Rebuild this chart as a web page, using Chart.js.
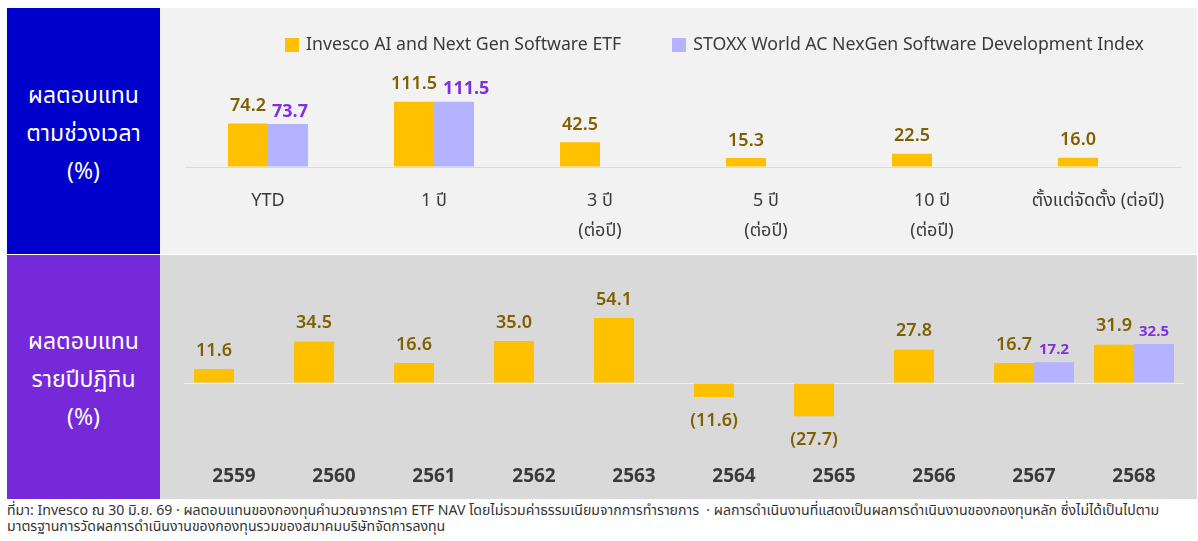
<!DOCTYPE html>
<html>
<head>
<meta charset="utf-8">
<script src="https://cdn.jsdelivr.net/npm/chart.js@4.4.1/dist/chart.umd.min.js"></script>
<style>
  html, body { margin:0; padding:0; background:#ffffff; }
  body { width:1198px; height:541px; position:relative; overflow:hidden;
         font-family:'Noto Sans Thai','Noto Sans Thai UI','Noto Sans',sans-serif; }
  .side { position:absolute; left:7px; width:153px; color:#ffffff; font-size:23px; box-sizing:border-box;
          display:flex; flex-direction:column; align-items:center; justify-content:center; line-height:38px; }
  .panel { position:absolute; left:160px; width:1037px; }
  #legend { position:absolute; left:285px; top:31px; display:flex; align-items:center;
            font-size:17.7px; color:#3a3a3a; white-space:nowrap; }
  #legend .item { display:flex; align-items:center; margin-right:51px; }
  #legend .sw { width:14px; height:14px; margin-right:7px; }
  #foot { position:absolute; left:7px; top:503px; font-size:14.1px; line-height:16px; color:#333333; white-space:nowrap; }
</style>
</head>
<body>
<div class="side" style="top:8px;height:246px;padding-top:6px;background:#0000cc;">
  <div>ผลตอบแทน</div><div>ตามช่วงเวลา</div><div>(%)</div>
</div>
<div class="side" style="top:255px;height:244px;padding-top:6px;background:#7629d8;">
  <div>ผลตอบแทน</div><div>รายปีปฏิทิน</div><div>(%)</div>
</div>
<div class="panel" style="top:8px;height:246px;background:#f2f2f2;"><canvas id="c1"></canvas></div>
<div class="panel" style="top:255px;height:244px;background:#d9d9d9;"><canvas id="c2"></canvas></div>
<div id="legend"></div>
<div id="foot">ที่มา: Invesco ณ 30 มิ.ย. 69 · ผลตอบแทนของกองทุนคำนวณจากราคา ETF NAV โดยไม่รวมค่าธรรมเนียมจากการทำรายการ &nbsp;· ผลการดำเนินงานที่แสดงเป็นผลการดำเนินงานของกองทุนหลัก ซึ่งไม่ได้เป็นไปตาม<br>มาตรฐานการวัดผลการดำเนินงานของกองทุนรวมของสมาคมบริษัทจัดการลงทุน</div>
<script>
// ---- data ----
const seriesNames = ['Invesco AI and Next Gen Software ETF', 'STOXX World AC NexGen Software Development Index'];
const periodLabels = ['YTD', '1 ปี', ['3 ปี', '(ต่อปี)'], ['5 ปี', '(ต่อปี)'], ['10 ปี', '(ต่อปี)'], 'ตั้งแต่จัดตั้ง (ต่อปี)'];
const etfPeriod = [74.2, 111.5, 42.5, 15.3, 22.5, 16.0];
const idxPeriod = [73.7, 111.5, null, null, null, null];
const yearLabels = ['2559', '2560', '2561', '2562', '2563', '2564', '2565', '2566', '2567', '2568'];
const etfYear = [11.6, 34.5, 16.6, 35.0, 54.1, -11.6, -27.7, 27.8, 16.7, 31.9];
const idxYear = [null, null, null, null, null, null, null, null, 17.2, 32.5];

// ---- style ----
const YELLOW = '#ffc000', LAV = '#b3b3ff';
const YLAB = '#7f6000', PLAB = '#8030e0';
const FONT = "'Noto Sans Thai','Noto Sans Thai UI','Noto Sans',sans-serif";

// legend (html)
const lg = document.getElementById('legend');
[[seriesNames[0], YELLOW], [seriesNames[1], LAV]].forEach(([t, c]) => {
  const d = document.createElement('div'); d.className = 'item';
  d.innerHTML = '<div class="sw" style="background:' + c + '"></div><span>' + t + '</span>';
  lg.appendChild(d);
});

const labelPlugin = {
  id: 'vlabels',
  afterDatasetsDraw(chart, args, opts) {
    const ctx = chart.ctx;
    const rightEdge = {}; // right edge of previous label per category
    chart.data.datasets.forEach((ds, di) => {
      const meta = chart.getDatasetMeta(di);
      const st = opts.styles[di];
      meta.data.forEach((el, i) => {
        const v = ds.data[i];
        if (v === null || v === undefined) return;
        const txt = v < 0 ? '(' + Math.abs(v).toFixed(1) + ')' : v.toFixed(1);
        ctx.save();
        ctx.font = st.font;
        ctx.fillStyle = st.color;
        ctx.textAlign = 'center';
        ctx.textBaseline = 'middle';
        const w = ctx.measureText(txt).width;
        let x = el.x;
        if (rightEdge[i] !== undefined && x - w / 2 < rightEdge[i] + opts.gap) {
          x = rightEdge[i] + opts.gap + w / 2;
        }
        rightEdge[i] = x + w / 2;
        const y = v < 0 ? el.y + st.offset + opts.adj : el.y - st.offset + opts.adj;
        ctx.fillText(txt, x, y);
        ctx.restore();
      });
    });
  }
};

function makeChart(id, labels, d1, d2, o) {
  return new Chart(document.getElementById(id), {
    type: 'bar',
    data: {
      labels: labels,
      datasets: [
        { label: seriesNames[0], data: d1, backgroundColor: YELLOW, categoryPercentage: o.cat, barPercentage: 1 },
        { label: seriesNames[1], data: d2, backgroundColor: LAV, categoryPercentage: o.cat, barPercentage: 1 }
      ]
    },
    options: {
      responsive: true, maintainAspectRatio: false, animation: false,
      layout: { padding: o.pad },
      plugins: {
        legend: { display: false }, tooltip: { enabled: false },
        vlabels: { styles: o.styles, gap: 6, adj: 4 }
      },
      scales: {
        x: {
          grid: { display: false, drawTicks: false },
          border: { display: false },
          ticks: { color: '#3a3a3a', padding: o.tickPad, font: o.tickFont, maxRotation: 0, autoSkip: false },
          afterFit: a => { a.height = o.xh; }
        },
        y: {
          min: o.min, max: o.max,
          ticks: { display: false },
          border: { display: false },
          grid: { drawTicks: false, color: o.zeroColor, lineWidth: 1 },
          afterBuildTicks: a => { a.ticks = [{ value: 0 }]; },
          afterFit: a => { a.width = 0; }
        }
      }
    },
    plugins: [labelPlugin]
  });
}

makeChart('c1', periodLabels, etfPeriod, idxPeriod, {
  cat: 0.482, min: 0, max: 130,
  pad: { left: 25, right: 16, top: 83, bottom: 0 },
  xh: 87, tickPad: 20,
  tickFont: { family: FONT, size: 18, lineHeight: 1.67 },
  zeroColor: '#dadada',
  styles: [
    { font: "600 18px " + FONT, color: YLAB, offset: 20 },
    { font: "bold 18px " + FONT, color: PLAB, offset: 15 }
  ]
});

makeChart('c2', yearLabels, etfYear, idxYear, {
  cat: 0.8, min: -55, max: 70,
  pad: { left: 24, right: 13, top: 44, bottom: 0 },
  xh: 50, tickPad: 18,
  tickFont: { family: FONT, size: 19, weight: 'bold', lineHeight: 1.2 },
  zeroColor: '#f0f0f0',
  styles: [
    { font: "600 18px " + FONT, color: YLAB, offset: 21 },
    { font: "bold 15px " + FONT, color: PLAB, offset: 15 }
  ]
});
</script>
</body>
</html>
